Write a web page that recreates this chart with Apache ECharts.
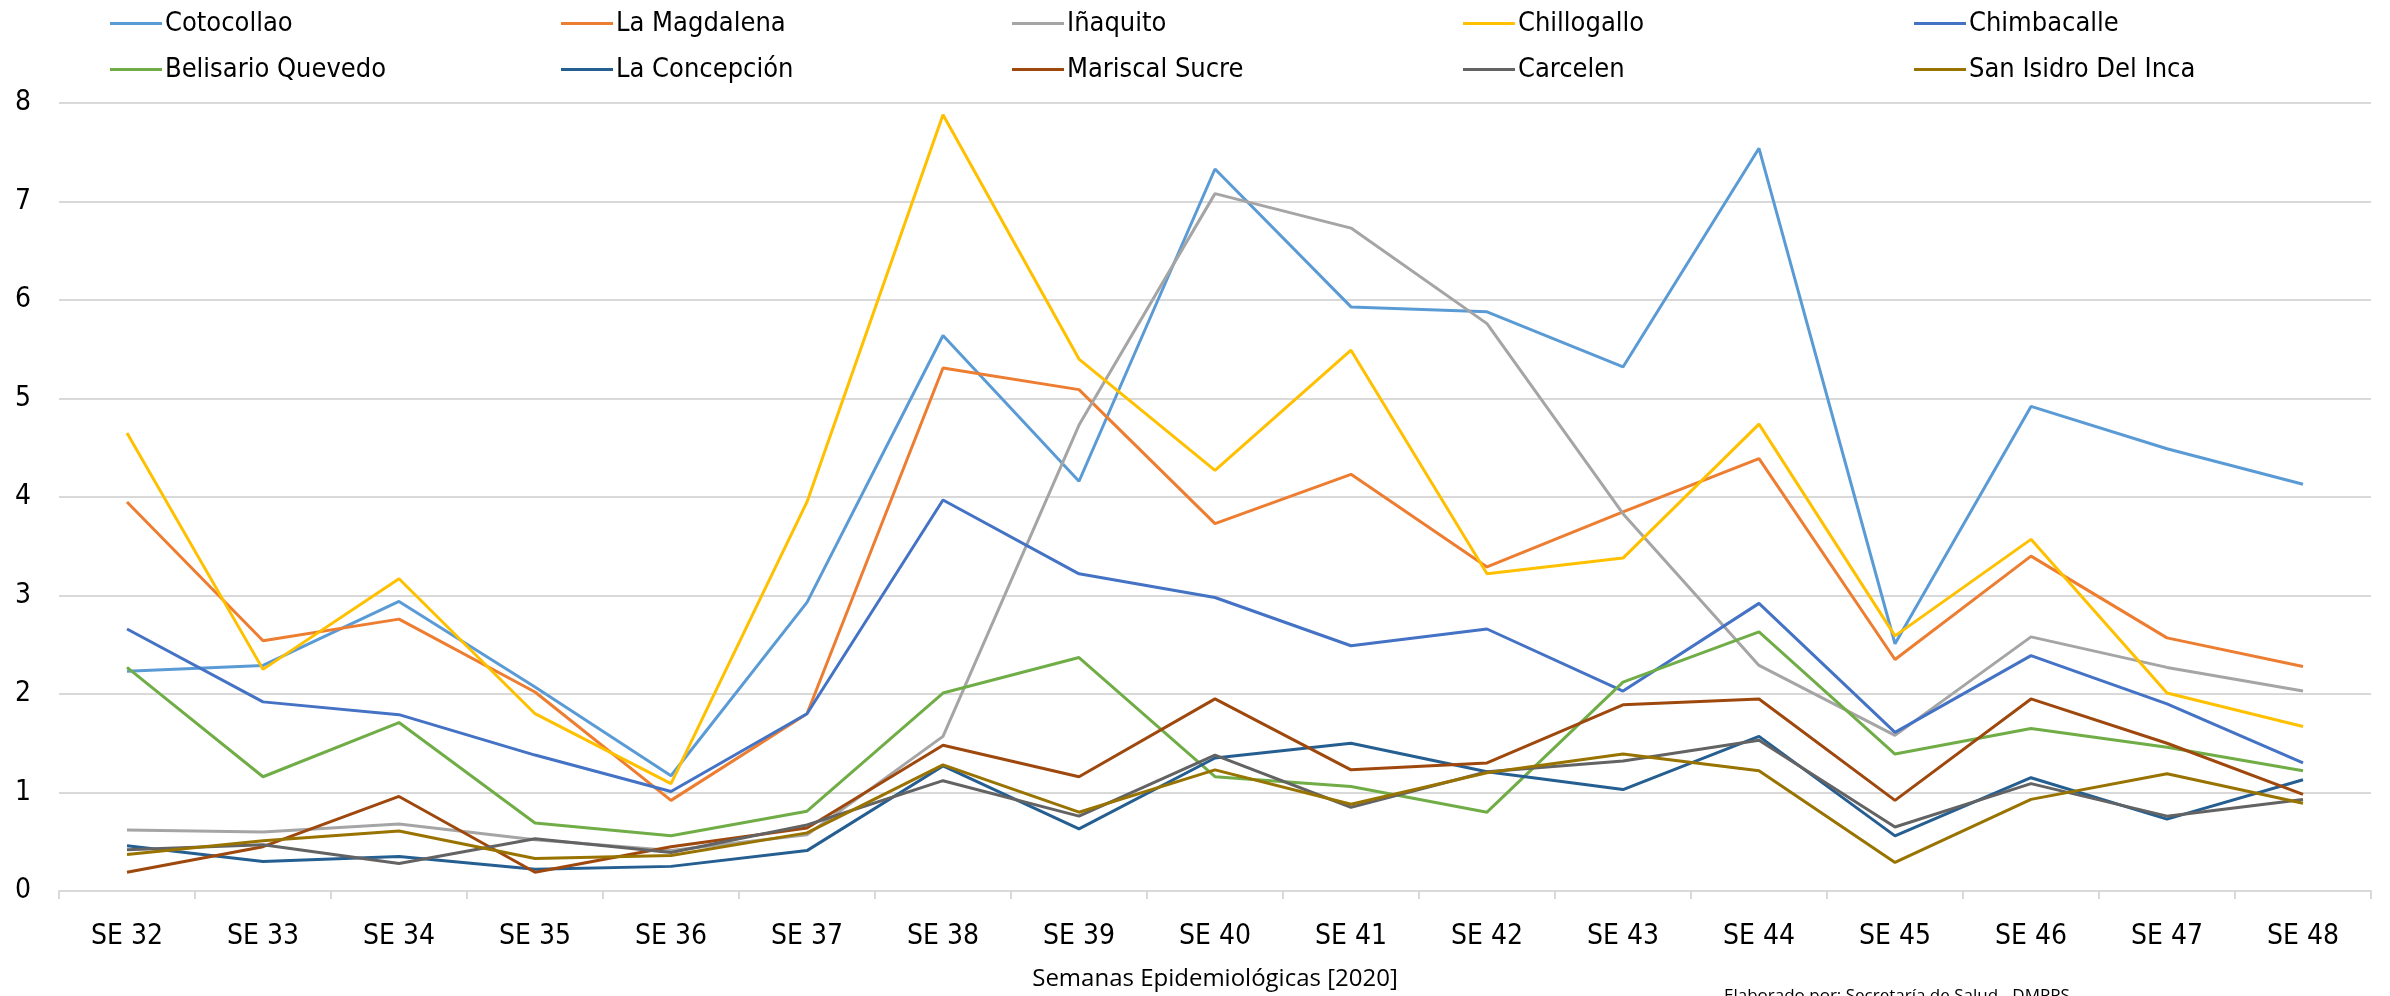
<!DOCTYPE html>
<html>
<head>
<meta charset="utf-8">
<title>Semanas Epidemiológicas</title>
<script src="https://cdn.jsdelivr.net/npm/echarts@6/dist/echarts.min.js"></script>
<style>
  html, body { margin: 0; padding: 0; background: #fff; }
  #main { width: 2390px; height: 996px; }
</style>
</head>
<body>
<div id="main"></div>
<script>
// weeks on the x axis
const weeks = ['SE 32', 'SE 33', 'SE 34', 'SE 35', 'SE 36', 'SE 37', 'SE 38', 'SE 39', 'SE 40',
  'SE 41', 'SE 42', 'SE 43', 'SE 44', 'SE 45', 'SE 46', 'SE 47', 'SE 48'];

// values, one list per parish
const cotocollao     = [2.23, 2.29, 2.94, 2.07, 1.17, 2.93, 5.64, 4.16, 7.33, 5.93, 5.88, 5.32, 7.54, 2.51, 4.92, 4.49, 4.13];
const laMagdalena    = [3.95, 2.54, 2.76, 2.02, 0.92, 1.80, 5.31, 5.09, 3.73, 4.23, 3.29, 3.85, 4.39, 2.35, 3.40, 2.57, 2.28];
const inaquito       = [0.62, 0.60, 0.68, 0.52, 0.41, 0.57, 1.57, 4.73, 7.08, 6.73, 5.76, 3.83, 2.29, 1.58, 2.58, 2.27, 2.03];
const chillogallo    = [4.65, 2.25, 3.17, 1.80, 1.09, 3.95, 7.88, 5.40, 4.27, 5.49, 3.22, 3.38, 4.74, 2.59, 3.57, 2.01, 1.67];
const chimbacalle    = [2.66, 1.92, 1.79, 1.38, 1.01, 1.80, 3.97, 3.22, 2.98, 2.49, 2.66, 2.03, 2.92, 1.61, 2.39, 1.90, 1.30];
const belisario      = [2.27, 1.16, 1.71, 0.69, 0.56, 0.81, 2.01, 2.37, 1.16, 1.06, 0.80, 2.12, 2.63, 1.39, 1.65, 1.46, 1.22];
const laConcepcion   = [0.46, 0.30, 0.35, 0.22, 0.25, 0.41, 1.27, 0.63, 1.35, 1.50, 1.21, 1.03, 1.57, 0.56, 1.15, 0.73, 1.13];
const mariscalSucre  = [0.19, 0.45, 0.96, 0.19, 0.45, 0.64, 1.48, 1.16, 1.95, 1.23, 1.30, 1.89, 1.95, 0.92, 1.95, 1.50, 0.98];
const carcelen       = [0.42, 0.47, 0.28, 0.53, 0.39, 0.67, 1.12, 0.76, 1.38, 0.85, 1.21, 1.32, 1.53, 0.65, 1.09, 0.76, 0.93];
const sanIsidro      = [0.37, 0.51, 0.61, 0.33, 0.36, 0.59, 1.28, 0.80, 1.23, 0.88, 1.20, 1.39, 1.22, 0.29, 0.93, 1.19, 0.89];

const names = ['Cotocollao', 'La Magdalena', 'Iñaquito', 'Chillogallo', 'Chimbacalle',
  'Belisario Quevedo', 'La Concepción', 'Mariscal Sucre', 'Carcelen', 'San Isidro Del Inca'];
const values = [cotocollao, laMagdalena, inaquito, chillogallo, chimbacalle,
  belisario, laConcepcion, mariscalSucre, carcelen, sanIsidro];
const colors = ['#5B9BD5', '#ED7D31', '#A5A5A5', '#FFC000', '#4472C4',
  '#70AD47', '#255E91', '#9E480E', '#636363', '#997300'];

const yTicks = [0, 8, 1]; // min, max, step

const labelFont = '"DejaVu Sans Condensed", "DejaVu Sans", sans-serif';

// one legend per column, two rows each
let legends = [];
for (let c = 0; c < 5; c++) {
  legends.push({
    orient: 'vertical',
    left: 105 + c * 451,
    top: 5,
    icon: 'rect',
    itemWidth: 52,
    itemHeight: 3,
    itemGap: 19,
    selectedMode: false,
    textStyle: { fontFamily: labelFont, fontSize: 27, lineHeight: 26, color: '#000', padding: [0, 0, 0, -2] },
    data: [names[c], names[c + 5]]
  });
}

let series = names.map((n, i) => ({
  name: n,
  type: 'line',
  data: values[i],
  symbol: 'none',
  color: colors[i],
  lineStyle: { width: 3, color: colors[i] }
}));

const chart = echarts.init(document.getElementById('main'));
chart.setOption({
  animation: false,
  backgroundColor: '#fff',
  legend: legends,
  grid: { left: 59, right: 19, top: 103, bottom: 95 },
  xAxis: {
    type: 'category',
    data: weeks,
    boundaryGap: true,
    name: 'Semanas Epidemiológicas [2020]',
    nameLocation: 'middle',
    nameGap: 76,
    nameTextStyle: { fontFamily: '"Open Sans", sans-serif', fontSize: 24, color: '#000' },
    axisLine: { lineStyle: { color: '#d9d9d9', width: 2 } },
    axisTick: { show: true, length: 8, lineStyle: { color: '#d9d9d9', width: 2 } },
    axisLabel: { fontFamily: labelFont, fontSize: 28, color: '#000', margin: 32 }
  },
  yAxis: {
    type: 'value',
    min: yTicks[0],
    max: yTicks[1],
    interval: yTicks[2],
    axisLine: { show: false },
    axisTick: { show: false },
    splitLine: { lineStyle: { color: '#d9d9d9', width: 2 } },
    axisLabel: { fontFamily: labelFont, fontSize: 28, color: '#000', align: 'center', margin: 36 }
  },
  graphic: [{
    type: 'text',
    left: 1724,
    top: 988,
    silent: true,
    style: { text: 'Elaborado por: Secretaría de Salud - DMPPS', font: '17px "Open Sans", sans-serif', fill: '#000' }
  }],
  series: series
});
</script>
</body>
</html>
